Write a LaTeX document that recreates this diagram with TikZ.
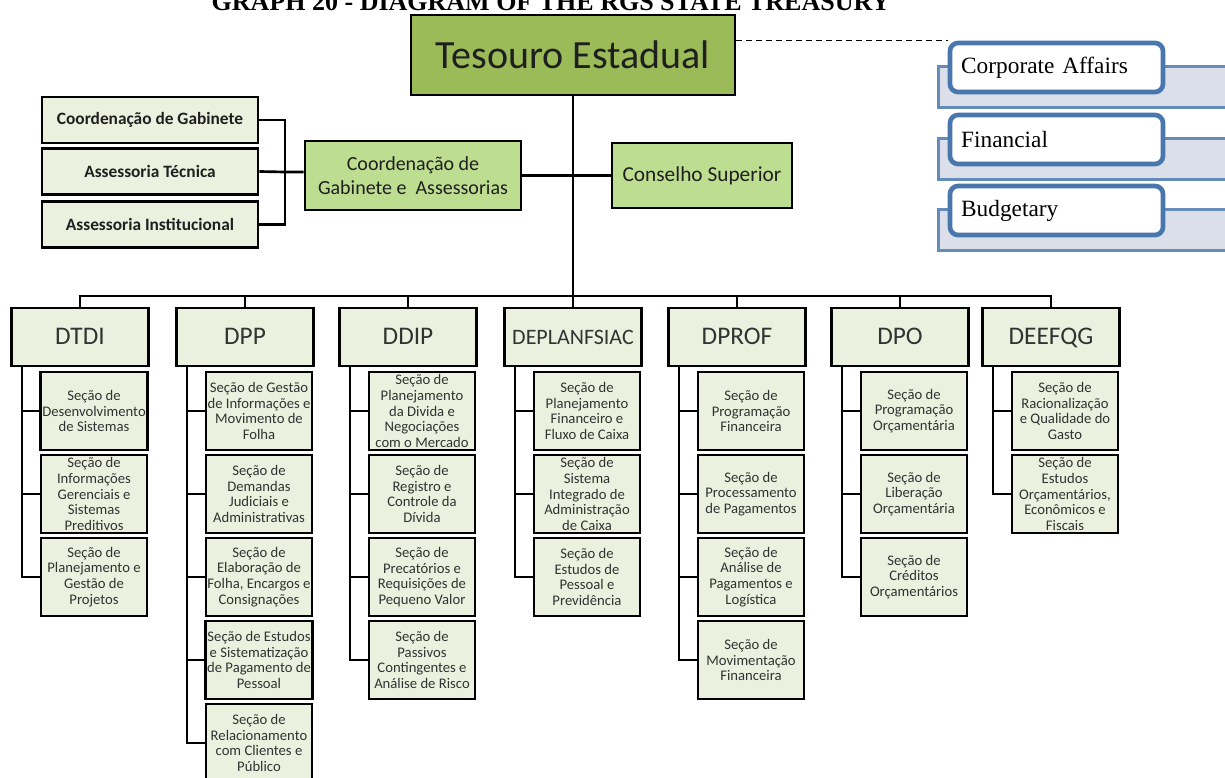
\documentclass[tikz,border=0pt]{standalone}
\usepackage{fontspec}
\setmainfont{Carlito}
\newfontfamily\notefont{Liberation Serif}
\usepackage{xcolor}
\usetikzlibrary{positioning}

\definecolor{treasury}{RGB}{155,187,89}
\definecolor{midgreen}{RGB}{189,221,145}
\definecolor{palegreen}{RGB}{235,241,222}
\definecolor{noteblue}{RGB}{74,118,174}
\definecolor{noteshade}{RGB}{218,223,233}
\definecolor{inkgray}{RGB}{50,50,50}

\begin{document}
\begin{tikzpicture}[x=0.75pt, y=-0.75pt,
    size/.style 2 args={minimum width=#1*0.75pt, minimum height=#2*0.75pt},
    unit/.style={draw, line width=2.2pt, inner sep=1pt, align=center},
    top/.style={unit, text=black!88},
    dept/.style={unit, fill=palegreen, size={137}{58}, text=black!80,
                 text height=13.5pt, text depth=3pt,
                 font=\fontsize{19}{22}\selectfont},
    sec/.style={unit, fill=palegreen, size={106}{78}, text=inkgray,
                font=\fontsize{11}{11.8}\selectfont},
    link/.style={line width=2pt},
    area/.style={draw=noteblue, line width=3.5pt, rounded corners=6pt, fill=white,
                 size={213}{49}, inner xsep=8pt, text width=143pt, align=left,
                 font=\notefont\fontsize{17.5}{20}\selectfont},
    shelf/.style={draw=noteblue!85, line width=2pt, fill=noteshade, size={303}{41}}]
    \useasboundingbox (0,0) rectangle (1225,778);

    \node[anchor=base, font=\notefont\bfseries\fontsize{19.5}{22}\selectfont]
        (title) at (551,11) {GRAPH 20 - DIAGRAM OF THE RGS STATE TREASURY};

    % top of the chart
    \node[top, fill=treasury, size={324}{80}, font=\fontsize{30}{36}\selectfont]
        (tes) at (573,55) {Tesouro Estadual};
    \node[top, fill=midgreen, size={216}{69}, font=\fontsize{15}{18}\selectfont]
        (coord) at (413,175.5) {Coordenação de\\Gabinete e~ Assessorias};
    \node[top, fill=midgreen, size={180}{65}, font=\fontsize{16}{19}\selectfont]
        (cons) at (702,175.5) {Conselho Superior};
    \foreach \n/\y/\lab in {gab1/120/Coordenação de Gabinete,
                            gab2/171.5/Assessoria Técnica,
                            gab3/224.5/Assessoria Institucional} {
        \node[top, fill=palegreen, size={216}{46}, font=\bfseries\fontsize{13}{15}\selectfont]
            (\n) at (150,\y) {\lab};
    }
    \coordinate (gabjoin) at (285,172);
    \draw[link] (gab1.east) -| (gabjoin) |- (gab3.east);
    \draw[link] (gab2.east) -- (gabjoin) -- (coord.west |- gabjoin);
    \draw[link] (coord.east) -- (cons.west);

    % areas on the right
    \foreach \n/\y/\lab in {corp/43/Corporate Affairs, fin/115/Financial, bud/186/Budgetary} {
        \node[shelf] (\n-back) at (1090,\y+44) {};
        \node[area] (\n) at (1056.5,\y+24.5) {\lab};
    }
    \draw[line width=1.2pt, dash pattern=on 4.5pt off 3pt]
        (tes.east |- corp.north west) -- (corp.north west);

    % departments and the bus
    \coordinate (bus) at (573,296);
    \draw[link] (tes.south) -- (bus);
    \foreach \n/\cx/\lab in {dtdi/80/DTDI, dpp/245/DPP, ddip/408/DDIP,
                             deplan/573/{\fontsize{16.5}{20}\selectfont DEPLANFSIAC},
                             dprof/737/DPROF, dpo/900/DPO, deefqg/1051/DEEFQG} {
        \node[dept] (\n) at (\cx,337) {\lab};
        \coordinate (\n-spine) at (\cx-58,366);
        \draw[link] (\n.north) |- (bus);
    }

    % sections
    \foreach \t [count=\i] in {{Seção de\\Desenvolvimento\\de Sistemas},
                               {Seção de\\Informações\\Gerenciais e\\Sistemas\\Preditivos},
                               {Seção de\\Planejamento e\\Gestão de\\Projetos}} {
        \node[sec] (dtdi-\i) at (94,328+83*\i) {\t};
        \draw[link] (dtdi-spine) |- (dtdi-\i.west);
    }
    \foreach \t [count=\i] in {{Seção de Gestão\\de Informações e\\Movimento de\\Folha},
                               {Seção de\\Demandas\\Judiciais e\\Administrativas},
                               {Seção de\\Elaboração de\\Folha, Encargos e\\Consignações},
                               {Seção de Estudos\\e Sistematização\\de Pagamento de\\Pessoal},
                               {Seção de\\Relacionamento\\com Clientes e\\Público}} {
        \node[sec] (dpp-\i) at (259,328+83*\i) {\t};
        \draw[link] (dpp-spine) |- (dpp-\i.west);
    }
    \foreach \t [count=\i] in {{Seção de\\Planejamento\\da Divida e\\Negociações\\com o Mercado},
                               {Seção de\\Registro e\\Controle da\\Dívida},
                               {Seção de\\Precatórios e\\Requisições de\\Pequeno Valor},
                               {Seção de\\Passivos\\Contingentes e\\Análise de Risco}} {
        \node[sec] (ddip-\i) at (422,328+83*\i) {\t};
        \draw[link] (ddip-spine) |- (ddip-\i.west);
    }
    \foreach \t [count=\i] in {{Seção de\\Planejamento\\Financeiro e\\Fluxo de Caixa},
                               {Seção de\\Sistema\\Integrado de\\Administração\\de Caixa},
                               {Seção de\\Estudos de\\Pessoal e\\Previdência}} {
        \node[sec] (deplan-\i) at (587,328+83*\i) {\t};
        \draw[link] (deplan-spine) |- (deplan-\i.west);
    }
    \foreach \t [count=\i] in {{Seção de\\Programação\\Financeira},
                               {Seção de\\Processamento\\de Pagamentos},
                               {Seção de\\Análise de\\Pagamentos e\\Logística},
                               {Seção de\\Movimentação\\Financeira}} {
        \node[sec] (dprof-\i) at (751,328+83*\i) {\t};
        \draw[link] (dprof-spine) |- (dprof-\i.west);
    }
    \foreach \t [count=\i] in {{Seção de\\Programação\\Orçamentária},
                               {Seção de\\Liberação\\Orçamentária},
                               {Seção de\\Créditos\\Orçamentários}} {
        \node[sec] (dpo-\i) at (914,328+83*\i) {\t};
        \draw[link] (dpo-spine) |- (dpo-\i.west);
    }
    \foreach \t [count=\i] in {{Seção de\\Racionalização\\e Qualidade do\\Gasto},
                               {Seção de\\Estudos\\Orçamentários,\\Econômicos e\\Fiscais}} {
        \node[sec] (deefqg-\i) at (1065,328+83*\i) {\t};
        \draw[link] (deefqg-spine) |- (deefqg-\i.west);
    }
\end{tikzpicture}
\end{document}
